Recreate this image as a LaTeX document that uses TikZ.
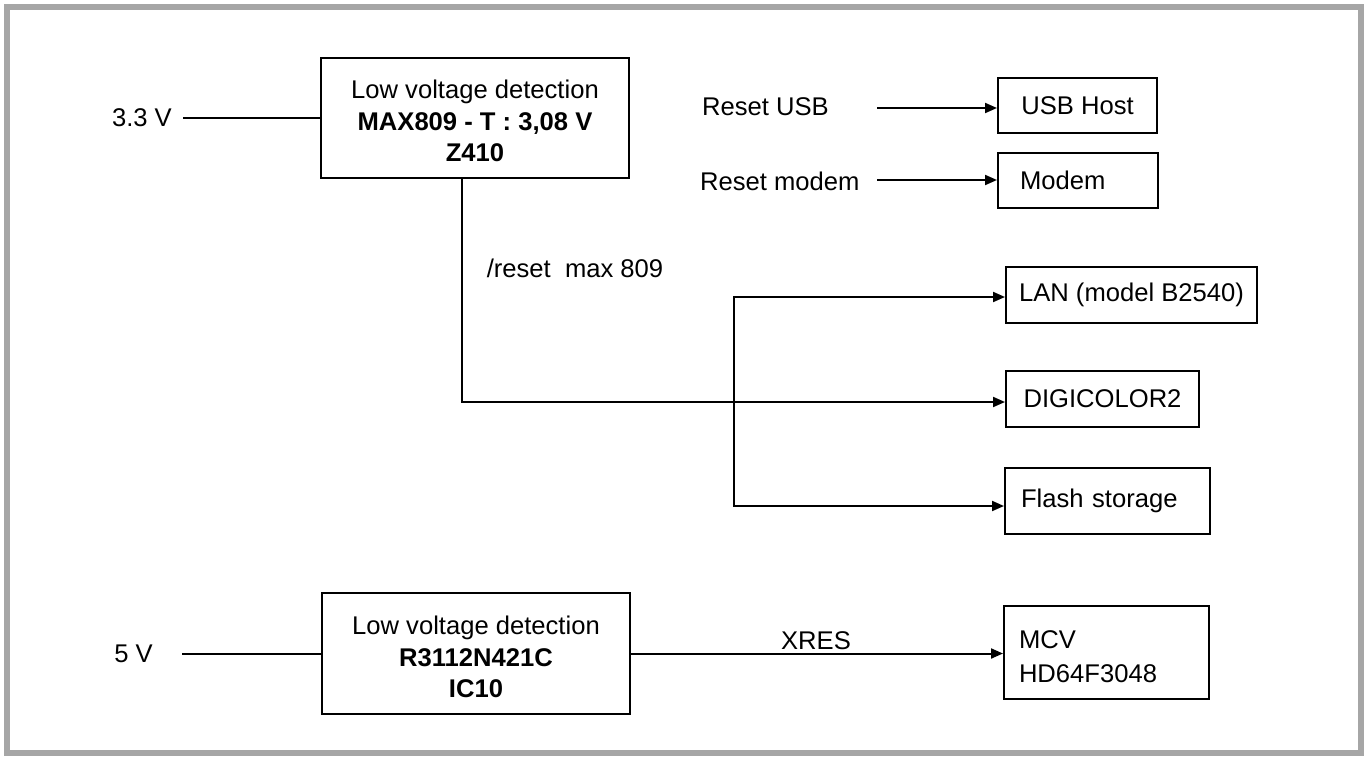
\documentclass[tikz,border=0pt]{standalone}
\usepackage{fontspec}
\setmainfont{Liberation Sans}
\usetikzlibrary{arrows.meta}

\tikzset{
  blk/.style={draw, line width=2pt, inner sep=0pt, align=center},
  wire/.style={line width=2pt},
  lbl/.style={inner sep=0pt}
}

\begin{document}
\begin{tikzpicture}[x=1pt, y=-1pt, >={Triangle[length=12pt,width=10pt]},
    font=\fontsize{25.6}{31.5}\selectfont]
    % Màu khung viền
    \definecolor{framegray}{RGB}{166,166,166}

    % 0. Vùng hình và khung xám
    \useasboundingbox (0,0) rectangle (1372,762);
    \draw[framegray, line width=6pt] (7,7) rectangle (1361,753);

    % 1. Hai khối phát hiện điện áp thấp
    \node[blk, minimum width=308pt, minimum height=120pt] (max809) at (475,118)
        {\rule{0pt}{25pt}Low voltage detection\\ \textbf{MAX809 - T : 3,08 V}\\ \textbf{Z410}};
    \node[blk, minimum width=308pt, minimum height=121pt] (r3112) at (476,653.5)
        {\rule{0pt}{26pt}Low voltage detection\\ \textbf{R3112N421C}\\ \textbf{IC10}};

    % 2. Các khối nhận tín hiệu reset
    \node[blk, minimum width=159pt, minimum height=55pt] (usb) at (1077.5,105.5) {USB Host};
    \node[blk, text width=116pt, inner xsep=22pt, align=left, minimum height=55pt] (modem) at (1078,180.5) {Modem};
    \node[blk, minimum width=251pt, minimum height=56pt] (lan) at (1131.5,295) {LAN (model B2540)};
    \node[blk, minimum width=193pt, minimum height=56pt] (digi) at (1102.5,399) {DIGICOLOR2};
    \node[blk, text width=173pt, inner xsep=16pt, align=left, minimum height=66pt] (flash) at (1107.5,501) {Flash storage};
    \node[blk, text width=175pt, inner xsep=15pt, align=left, minimum height=93pt,
        font=\fontsize{25.6}{34}\selectfont] (mcv) at (1106.5,652.5) {\rule{0pt}{27pt}MCV\\HD64F3048};

    % 3. Nhãn tín hiệu
    \node[lbl, inner xsep=11pt, anchor=east] (v33) at (183,118) {3.3 V};
    \node[lbl, inner xsep=29pt, anchor=east] (v5) at (182,654) {5 V};
    \node[lbl, anchor=west] (rusb) at (702,107) {Reset USB};
    \node[lbl, anchor=west] (rmodem) at (700,181) {Reset modem};
    \node[lbl] (rstlbl) at (575,268) {/reset\ \ max 809};
    \node[lbl] (xres) at (816,641) {XRES};

    % 4. Đường nối và mũi tên
    \coordinate (usbin) at (877,108);
    \coordinate (modemin) at (877,180);
    \draw[wire, ->] (usbin) -- (usbin -| usb.west);
    \draw[wire, ->] (modemin) -- (modemin -| modem.west);
    \draw[wire] (v33.east) -- (v33.east -| max809.west);
    \draw[wire] (v5.east) -- (v5.east -| r3112.west);
    \draw[wire, ->] (r3112.east) -- (r3112.east -| mcv.west);

    \coordinate (rst) at (462,402);
    \draw[wire, ->] (rst |- max809.south) -- (rst) -- (rst -| digi.west);
    \coordinate (brtop) at (734,297);
    \coordinate (brbot) at (734,506);
    \draw[wire, <->] (brtop -| lan.west) -- (brtop) -- (brbot) -- (brbot -| flash.west);
\end{tikzpicture}
\end{document}
